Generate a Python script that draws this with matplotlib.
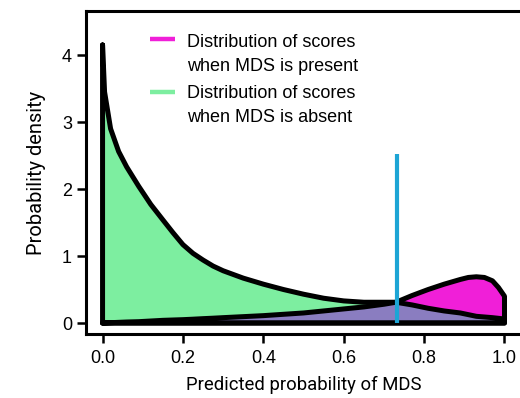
import numpy as np
import matplotlib.pyplot as plt

plt.rcParams['font.family'] = ['Liberation Sans', 'DejaVu Sans']

# density curves (common x grid)
x_grid = [0.0, 0.005, 0.02, 0.04, 0.06, 0.09, 0.12, 0.15, 0.175, 0.2, 0.225, 0.25,
          0.275, 0.3, 0.35, 0.4, 0.45, 0.5, 0.55, 0.6, 0.65, 0.7, 0.73, 0.77,
          0.81, 0.85, 0.89, 0.91, 0.93, 0.95, 0.97, 0.985, 1.0]
absent = [4.15, 3.45, 2.9, 2.56, 2.33, 2.04, 1.77, 1.54, 1.35, 1.17, 1.04, 0.94,
          0.85, 0.78, 0.67, 0.58, 0.5, 0.43, 0.37, 0.33, 0.31, 0.31, 0.31, 0.27,
          0.22, 0.18, 0.15, 0.125, 0.1, 0.09, 0.08, 0.07, 0.06]
present = [0.0, 0.0, 0.005, 0.01, 0.015, 0.02, 0.03, 0.04, 0.045, 0.05, 0.057, 0.065,
           0.072, 0.08, 0.095, 0.11, 0.13, 0.15, 0.18, 0.21, 0.24, 0.28, 0.31, 0.41,
           0.5, 0.58, 0.65, 0.68, 0.69, 0.68, 0.63, 0.53, 0.4]
cutoff = 0.733
cutoff_top = 2.52

xticks = [0.0, 0.2, 0.4, 0.6, 0.8, 1.0]
yticks = [0, 1, 2, 3, 4]
legend_labels = [["Distribution of scores", "when MDS is present"],
                 ["Distribution of scores", "when MDS is absent"]]

green = '#7DEEA0'
magenta = '#F01FD8'
purple = '#8A7DC0'
cyan = '#1DA5D5'

fig = plt.figure(figsize=(5.2, 3.98), dpi=100)
ax = fig.add_axes([0.1663, 0.1608, 0.8348, 0.8116])

xa = np.array(x_grid)
ab = np.array(absent)
pr = np.array(present)
low = np.minimum(ab, pr)

ax.fill_between(xa, low, ab, color=green, lw=0)
ax.fill_between(xa, low, pr, color=magenta, lw=0)
ax.fill_between(xa, 0, low, color=purple, lw=0)

# outlines (closed down to the baseline)
for yy in (ab, pr):
    ax.plot(np.r_[xa, 1.0, 0.0, 0.0], np.r_[yy, 0, 0, yy[0]], color='black',
            lw=3.6, solid_joinstyle='round', solid_capstyle='round')

ax.vlines(cutoff, 0, cutoff_top, color=cyan, lw=3, zorder=5)

# legend drawn by hand, key on first text line
for col, lines, ykey, yb in [(magenta, legend_labels[0], 4.24, (4.124, 3.766)),
                             (green, legend_labels[1], 3.45, (3.358, 3.0))]:
    ax.plot([0.117, 0.179], [ykey, ykey], color=col, lw=3.2, solid_capstyle='butt')
    for txt, yy in zip(lines, yb):
        ax.text(0.209, yy, txt, fontsize=13, va='baseline', ha='left')

ax.set_xlim(-0.04, 1.04)
ax.set_ylim(-0.164, 4.657)
ax.set_xticks(xticks)
ax.set_xticklabels(['%.1f' % v for v in xticks])
ax.set_yticks(yticks)
ax.set_yticklabels([str(v) for v in yticks])
ax.tick_params(labelsize=13, length=6.5, width=1.8, pad=4)
ax.tick_params(axis='x', pad=5)

for s in ['left', 'top', 'bottom']:
    ax.spines[s].set_linewidth(2.2)
ax.spines['right'].set_visible(False)

ax.set_xlabel('Predicted probability of MDS', labelpad=6.5, fontsize=13.3,
              fontfamily=['Roboto', 'Liberation Sans'])
ax.set_ylabel('Probability density', labelpad=11, fontsize=14.5,
              fontfamily=['Roboto', 'Liberation Sans'])

fig.savefig('out.png', dpi=100)
